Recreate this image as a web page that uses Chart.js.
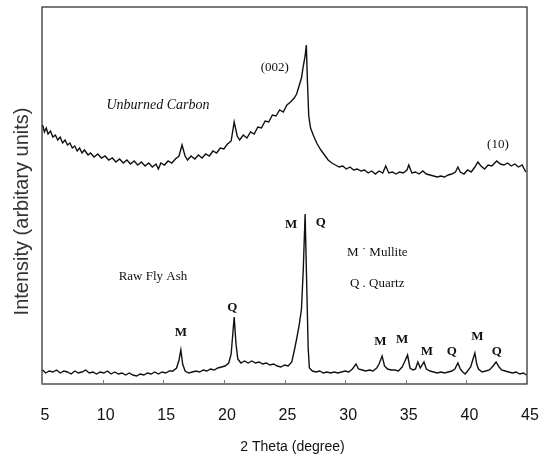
<!DOCTYPE html>
<html>
<head>
<meta charset="utf-8">
<script src="https://cdn.jsdelivr.net/npm/chart.js@4.4.1/dist/chart.umd.min.js"></script>
<style>
    html, body { margin: 0; padding: 0; background: #fff; }
</style>
</head>
<body>
<canvas id="chart-canvas" width="547" height="464"></canvas>
<script>
//////////////////////////////////////////////////
/////       Data   /////////
//////////////////////////////////////////////////

var xTicks = [5, 10, 15, 20, 25, 30, 35, 40, 45];

// Unburned Carbon (upper trace)
var carbonTheta = [5.05, 5.2, 5.35, 5.5, 5.7, 5.9, 6.1, 6.3, 6.5, 6.7, 6.9, 7.1, 7.3, 7.5, 7.7, 7.9, 8.1, 8.3, 8.5, 8.8,
    9.0, 9.3, 9.6, 9.9, 10.2, 10.5, 10.8, 11.1, 11.4, 11.7, 12.0, 12.3, 12.6, 12.9, 13.2, 13.5, 13.8, 14.1, 14.4, 14.6,
    14.8, 15.1, 15.4, 15.7, 16.0, 16.3, 16.55, 16.8, 17.0, 17.3, 17.6, 17.9, 18.2, 18.5, 18.8, 19.1, 19.4, 19.7, 20.0, 20.3,
    20.6, 20.85, 21.1, 21.3, 21.6, 21.9, 22.2, 22.5, 22.8, 23.1, 23.4, 23.7, 24.0, 24.3, 24.6, 24.9, 25.2, 25.5, 25.8, 26.0,
    26.2, 26.4, 26.55, 26.7, 26.8, 26.9, 27.0, 27.15, 27.4, 27.7, 28.0, 28.3, 28.6, 28.9, 29.2, 29.5, 29.8, 30.1, 30.4, 30.7,
    31.0, 31.3, 31.6, 31.9, 32.2, 32.5, 32.8, 33.1, 33.35, 33.6, 33.9, 34.2, 34.5, 34.8, 35.1, 35.25, 35.5, 35.8, 36.1, 36.4,
    36.7, 37.0, 37.3, 37.6, 37.9, 38.2, 38.5, 38.8, 39.1, 39.3, 39.5, 39.8, 40.1, 40.4, 40.7, 40.95, 41.2, 41.5, 41.8, 42.1,
    42.5, 42.8, 43.1, 43.4, 43.7, 44.0, 44.3, 44.6, 44.9];
var carbonIntensity = [259, 252, 256, 250, 253, 247, 249, 244, 247, 241, 244, 239, 241, 236, 238, 233, 236, 231, 234, 229,
    231, 227, 230, 226, 228, 224, 226, 222, 225, 221, 224, 220, 223, 219, 222, 218, 221, 217, 220, 215,
    221, 219, 223, 221, 225, 228, 239, 228, 224, 228, 225, 229, 226, 230, 228, 233, 231, 236, 235, 240,
    243, 262, 248, 244, 249, 246, 252, 250, 257, 256, 263, 262, 269, 268, 274, 272, 279, 282, 286, 290,
    298, 306, 318, 328, 339, 300, 268, 256, 248, 240, 234, 229, 224, 221, 219, 217, 218, 215, 217, 214,
    215, 213, 214, 211, 213, 210, 213, 211, 218, 211, 212, 210, 212, 211, 214, 219, 211, 212, 210, 213,
    210, 209, 208, 207, 208, 207, 209, 210, 212, 217, 212, 210, 214, 212, 217, 222, 218, 215, 219, 218,
    223, 220, 219, 221, 218, 220, 217, 219, 212];

// Raw Fly Ash (lower trace)
var ashTheta = [5.05, 5.3, 5.6, 5.9, 6.2, 6.5, 6.8, 7.1, 7.4, 7.7, 8.0, 8.3, 8.6, 8.9, 9.2, 9.5, 9.8, 10.1, 10.4, 10.7,
    11.0, 11.3, 11.6, 11.9, 12.2, 12.5, 12.8, 13.1, 13.4, 13.7, 14.0, 14.3, 14.6, 14.9, 15.2, 15.5, 15.8, 16.1, 16.3, 16.45,
    16.6, 16.8, 17.1, 17.4, 17.7, 18.0, 18.3, 18.6, 18.9, 19.2, 19.5, 19.8, 20.1, 20.4, 20.6, 20.85, 21.0, 21.15, 21.4, 21.7,
    22.0, 22.3, 22.6, 22.9, 23.2, 23.5, 23.8, 24.1, 24.4, 24.7, 25.0, 25.3, 25.6, 25.8, 26.0, 26.2, 26.4, 26.55, 26.7, 26.85,
    26.95, 27.05, 27.3, 27.6, 27.9, 28.2, 28.5, 28.8, 29.1, 29.4, 29.7, 30.0, 30.3, 30.6, 30.9, 31.1, 31.4, 31.7, 32.0, 32.3,
    32.6, 32.8, 33.05, 33.25, 33.5, 33.8, 34.1, 34.4, 34.7, 34.9, 35.15, 35.35, 35.6, 35.8, 36.0, 36.2, 36.35, 36.5, 36.7, 37.0,
    37.3, 37.6, 37.9, 38.2, 38.5, 38.8, 39.05, 39.3, 39.5, 39.7, 39.9, 40.1, 40.35, 40.55, 40.7, 40.85, 41.0, 41.3, 41.6, 41.9,
    42.2, 42.45, 42.7, 42.9, 43.2, 43.5, 43.8, 44.1, 44.4, 44.7, 44.95];
var ashIntensity = [14, 11, 13, 12, 14, 11, 13, 12, 10, 13, 11, 12, 14, 11, 12, 10, 12, 11, 13, 10,
    12, 10, 11, 9, 11, 9, 8, 10, 9, 11, 10, 12, 10, 12, 11, 13, 13, 16, 24, 34,
    20, 13, 11, 12, 13, 12, 14, 13, 15, 14, 16, 17, 18, 21, 30, 67, 40, 25, 21, 23,
    21, 23, 21, 22, 20, 21, 19, 20, 18, 17, 19, 18, 22, 33, 45, 58, 75, 115, 170, 90,
    37, 16, 13, 12, 13, 11, 12, 11, 12, 11, 12, 13, 12, 15, 20, 15, 14, 13, 14, 13,
    16, 20, 28, 18, 15, 14, 14, 13, 17, 22, 29, 16, 14, 15, 22, 16, 19, 22, 15, 13,
    12, 11, 12, 11, 12, 13, 15, 21, 15, 12, 10, 13, 17, 25, 31, 20, 15, 12, 13, 14,
    18, 22, 17, 14, 13, 12, 11, 12, 10, 11, 9];

// phase marks: M = Mullite, Q = Quartz
var peakText = ['M', 'Q', 'M', 'Q', 'M', 'M', 'M', 'Q', 'M', 'Q'];
var peakTheta = [25.55, 28.0, 16.45, 20.7, 32.9, 34.7, 36.75, 38.8, 40.9, 42.5];
var peakIntensity = [159, 161, 51, 76, 42, 44, 32, 32, 47, 32];

// other notes on the plot
var noteText = ['Unburned Carbon', '(002)', '(10)', 'Raw Fly Ash', "M \u02D9 Mullite", 'Q . Quartz'];
var noteTheta = [14.57, 24.2, 42.6, 14.15, 30.15, 30.4];
var noteIntensity = [279, 316, 239, 107, 131, 100];
var noteItalic = [true, false, false, false, false, false];
var noteAlign = ['center', 'center', 'center', 'center', 'left', 'left'];

var xTitle = '2 Theta (degree)';
var yTitle = 'Intensity (arbitary units)';

function toPoints(xs, ys) {
    var pts = [];
    for (var i = 0; i < xs.length; i++) {
        pts.push({x: xs[i], y: ys[i]});
    }
    return pts;
}

//////////////////////////////////////////////////
/////       Frame, inner ticks and notes    //////
//////////////////////////////////////////////////

var plotNotes = {
    id: 'plotNotes',
    beforeDatasetsDraw: function (chart) {
        var ctx = chart.ctx;
        var a = chart.chartArea;
        var xs = chart.scales.x;
        ctx.save();
        ctx.strokeStyle = '#222';
        ctx.lineWidth = 1.2;
        ctx.strokeRect(a.left, a.top, a.right - a.left, a.bottom - a.top);
        ctx.strokeStyle = '#777';
        ctx.lineWidth = 1;
        xTicks.forEach(function (t) {
            var px = Math.round(xs.getPixelForValue(t)) + 0.5;
            ctx.beginPath();
            ctx.moveTo(px, a.bottom);
            ctx.lineTo(px, a.bottom - 4);
            ctx.stroke();
        });

        // axis titles
        ctx.fillStyle = '#111';
        ctx.textAlign = 'center';
        ctx.textBaseline = 'middle';
        ctx.font = '14px "Liberation Sans", Arial, sans-serif';
        ctx.fillText(xTitle, (a.left + a.right) / 2 + 8, chart.height - 17);
        ctx.save();
        ctx.translate(22, (a.top + a.bottom) / 2 + 16);
        ctx.rotate(-Math.PI / 2);
        ctx.fillStyle = '#333';
        ctx.font = '20px "Liberation Sans", Arial, sans-serif';
        ctx.fillText(yTitle, 0, 0);
        ctx.restore();
        ctx.restore();
    },
    afterDatasetsDraw: function (chart) {
        var ctx = chart.ctx;
        var xs = chart.scales.x;
        var ys = chart.scales.y;
        ctx.save();
        ctx.fillStyle = '#111';
        ctx.textBaseline = 'middle';
        ctx.textAlign = 'center';
        ctx.font = 'bold 13px "Liberation Serif", serif';
        for (var i = 0; i < peakText.length; i++) {
            ctx.fillText(peakText[i], xs.getPixelForValue(peakTheta[i]), ys.getPixelForValue(peakIntensity[i]));
        }
        for (var j = 0; j < noteText.length; j++) {
            ctx.font = (noteItalic[j] ? 'italic 14px' : '13px') + ' "Liberation Serif", serif';
            ctx.textAlign = noteAlign[j];
            ctx.fillText(noteText[j], xs.getPixelForValue(noteTheta[j]), ys.getPixelForValue(noteIntensity[j]));
        }
        ctx.restore();
    }
};

//////////////////////////////////////////////////
/////       Chart                           //////
//////////////////////////////////////////////////

var ctx = document.getElementById('chart-canvas').getContext('2d');
var myChart = new Chart(ctx, {
    type: 'line',
    data: {
        datasets: [
            {
                label: 'Unburned Carbon',
                data: toPoints(carbonTheta, carbonIntensity),
                borderColor: '#111',
                borderWidth: 1.4,
                pointRadius: 0,
                tension: 0,
                fill: false
            },
            {
                label: 'Raw Fly Ash',
                data: toPoints(ashTheta, ashIntensity),
                borderColor: '#111',
                borderWidth: 1.4,
                pointRadius: 0,
                tension: 0,
                fill: false
            }
        ]
    },
    options: {
        responsive: false,
        animation: false,
        devicePixelRatio: 1,
        layout: {padding: {top: 7, right: 20, left: 0, bottom: 0}},
        plugins: {
            legend: {display: false},
            tooltip: {enabled: false}
        },
        scales: {
            x: {
                type: 'linear',
                min: 5,
                max: 45,
                afterBuildTicks: function (scale) {
                    scale.ticks = xTicks.map(function (v) { return {value: v}; });
                },
                afterFit: function (scale) {
                    scale.height = 80;
                    scale.paddingLeft = 0;
                    scale.paddingRight = 0;
                },
                grid: {display: false, drawTicks: false},
                border: {display: false},
                ticks: {
                    color: '#111',
                    padding: 22,
                    labelOffset: 3,
                    font: {family: '"Liberation Sans", Arial, sans-serif', size: 16}
                }
            },
            y: {
                min: 0,
                max: 377,
                afterFit: function (scale) {
                    scale.width = 42;
                    scale.paddingTop = 0;
                    scale.paddingBottom = 0;
                },
                grid: {display: false, drawTicks: false},
                border: {display: false},
                ticks: {display: false}
            }
        }
    },
    plugins: [plotNotes]
});
</script>
</body>
</html>
